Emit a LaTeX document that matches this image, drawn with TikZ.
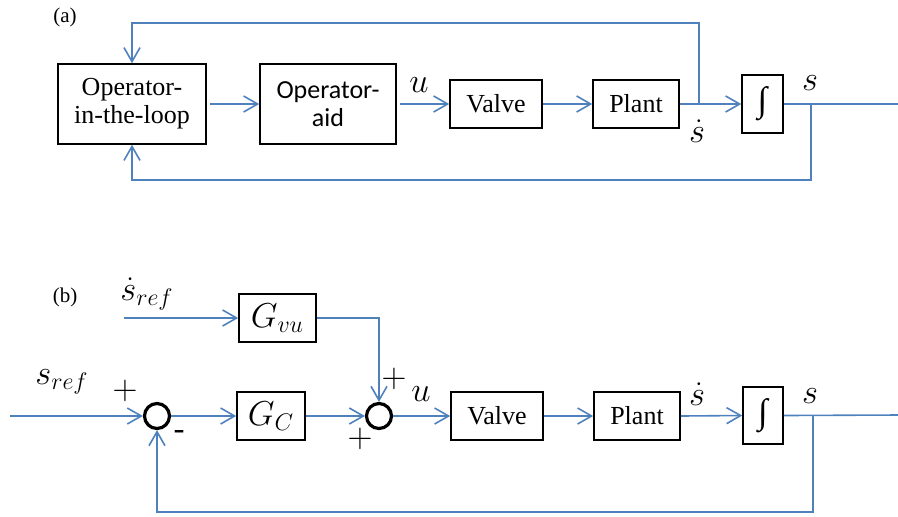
\documentclass[tikz,border=0pt]{standalone}
\usepackage{fontspec}
\setmainfont{Liberation Serif}
\newfontfamily\calib{Carlito}
\usetikzlibrary{arrows.meta,positioning,calc}
\definecolor{LoopBlue}{HTML}{4F81BD}

\begin{document}
\begin{tikzpicture}[x=0.5pt,y=-0.5pt,
  blk/.style={draw=black,line width=0.8pt,inner sep=0pt,align=center,font=\fontsize{13}{14}\selectfont},
  sig/.style={draw=LoopBlue,line width=0.8pt},
  arr/.style={sig,-{Straight Barb[length=7pt,width=8pt,line width=0.8pt]}},
  sumc/.style={circle,draw=black,line width=1.6pt,minimum size=12.5pt,inner sep=0pt},
  lbl/.style={font=\fontsize{16.5}{17}\selectfont,inner sep=1pt},
  mblk/.style={blk,font=\fontsize{16.5}{17}\selectfont},
  igl/.style={font=\fontsize{17.5}{17.5}\selectfont}]
  \useasboundingbox (0,0) rectangle (898,516);

  % (a) operator in the loop
  \node[font=\fontsize{10.5}{12}\selectfont] (taga) at (65,17) {(a)};
  \node[blk,minimum width=74pt,minimum height=40pt] (opl) at (132,104) {Operator-\\in-the-loop};
  \node[blk,minimum width=68pt,minimum height=40pt] (aid) at (328,104) {\calib Operator-\\\calib aid};
  \node[blk,minimum width=46pt,minimum height=24pt] (valvea) at (496,104) {Valve};
  \node[blk,minimum width=43pt,minimum height=24pt] (planta) at (636,104) {Plant};
  \node[blk,igl,minimum width=20.5pt,minimum height=29pt] (inta) at (762.5,104) {∫};
  \node[lbl] (ua) at (419,85) {$u$};
  \node[lbl] (sdota) at (697,131) {$\dot{s}$};
  \node[lbl] (sa) at (810,83) {$s$};
  \coordinate (ta) at (699,104);
  \coordinate (topa) at (699,23);
  \coordinate (outa) at (898,104);
  \coordinate (fba) at (811,104);
  \coordinate (bota) at (811,180);
  \draw[arr,shorten <=1.5pt] (opl.east) -- (aid.west);
  \draw[arr,shorten <=1.5pt] (aid.east) -- (valvea.west);
  \draw[arr] (valvea.east) -- (planta.west);
  \draw[arr] (planta.east) -- (inta.west);
  \draw[arr] (ta) -- (topa) -| (opl.north);
  \draw[sig] (inta.east) -- (outa);
  \draw[arr] (fba) -- (bota) -| (opl.south);

  % (b) closed loop with feed-forward
  \node[font=\fontsize{10.5}{12}\selectfont] (tagb) at (65,297) {(b)};
  \node[mblk,minimum width=38.5pt,minimum height=24pt] (gvu) at (277.5,318) {$G_{vu}$};
  \node[mblk,minimum width=34pt,minimum height=24pt] (gc) at (271,416) {$G_C$};
  \node[sumc] (sum1) at (157,416) {};
  \node[sumc] (sum2) at (379,416) {};
  \node[blk,minimum width=46pt,minimum height=24pt] (valveb) at (497,416) {Valve};
  \node[blk,minimum width=43pt,minimum height=24pt] (plantb) at (637,416) {Plant};
  \node[blk,igl,minimum width=20pt,minimum height=28.5pt] (intb) at (763,415.5) {∫};
  \node[lbl] (sdref) at (147,294) {$\dot{s}_{ref}$};
  \node[lbl] (sref) at (62,382) {$s_{ref}$};
  \node[lbl] (p1) at (125,391) {$+$};
  \node[lbl] (m1) at (179,435) {-};
  \node[lbl] (p2) at (394,379) {$+$};
  \node[lbl] (p3) at (360,439) {$+$};
  \node[lbl] (ub) at (421,394) {$u$};
  \node[lbl] (sdotb) at (697,394) {$\dot{s}$};
  \node[lbl] (sb) at (810,396) {$s$};
  \coordinate (sdin) at (124,318);
  \coordinate (sin) at (10,416);
  \coordinate (outb) at (898,415);
  \coordinate (fbb) at (813,416);
  \coordinate (botb) at (813,512);
  \draw[arr] (sdin) -- (gvu.west);
  \draw[arr] (gvu.east) -| (sum2.north);
  \draw[arr] (sin) -- (sum1.west);
  \draw[arr] (sum1.east) -- (gc.west);
  \draw[arr] (gc.east) -- (sum2.west);
  \draw[arr] (sum2.east) -- (valveb.west);
  \draw[arr] (valveb.east) -- (plantb.west);
  \draw[arr] (plantb.east) -- (intb.west);
  \draw[sig] (intb.east) -- (outb);
  \draw[arr] (fbb) -- (botb) -| (sum1.south);
\end{tikzpicture}
\end{document}
